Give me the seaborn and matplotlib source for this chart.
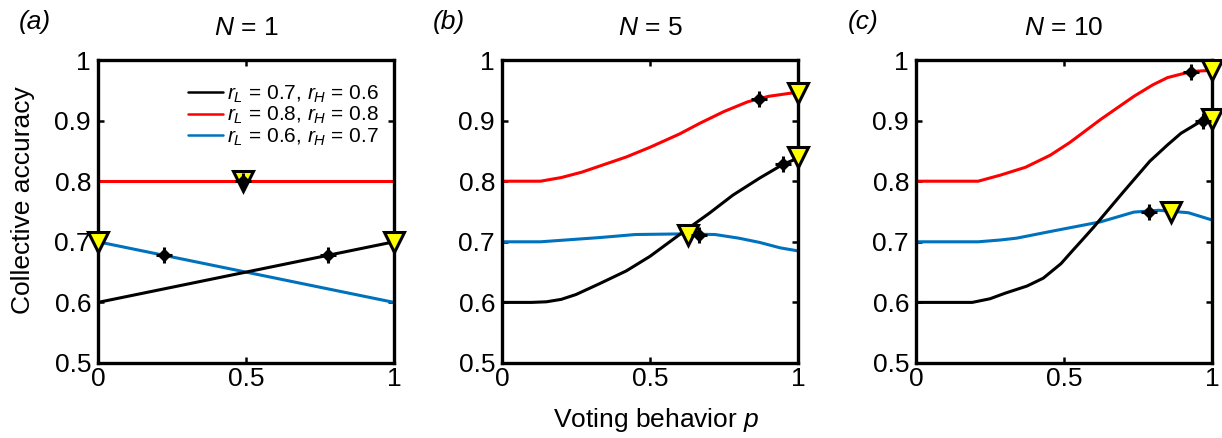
import numpy as np
import pandas as pd
import seaborn as sns
import matplotlib
matplotlib.use("Agg")
import matplotlib.pyplot as plt
from matplotlib.lines import Line2D

# ---- data ----
labels = ["$r_L$ = 0.7, $r_H$ = 0.6", "$r_L$ = 0.8, $r_H$ = 0.8", "$r_L$ = 0.6, $r_H$ = 0.7"]
titles = ["$N$ = 1", "$N$ = 5", "$N$ = 10"]
letters = ["(a)", "(b)", "(c)"]

# N = 1
a_black_p = [0, 1]
a_black_y = [0.6, 0.7]
a_red_p = [0, 1]
a_red_y = [0.8, 0.8]
a_blue_p = [0, 1]
a_blue_y = [0.7, 0.6]

# N = 5
b_black_p = [0, 0.10, 0.15, 0.20, 0.25, 0.33, 0.42, 0.50, 0.60, 0.70, 0.78, 0.87, 0.95, 1.0]
b_black_y = [0.600, 0.600, 0.601, 0.605, 0.613, 0.631, 0.652, 0.676, 0.712, 0.747, 0.777, 0.805, 0.828, 0.838]
b_red_p = [0, 0.13, 0.20, 0.27, 0.33, 0.42, 0.50, 0.60, 0.67, 0.75, 0.83, 0.90, 1.0]
b_red_y = [0.800, 0.800, 0.806, 0.815, 0.825, 0.840, 0.856, 0.878, 0.896, 0.915, 0.931, 0.940, 0.947]
b_blue_p = [0, 0.13, 0.33, 0.45, 0.60, 0.72, 0.80, 0.87, 0.94, 1.0]
b_blue_y = [0.700, 0.700, 0.707, 0.712, 0.713, 0.712, 0.706, 0.699, 0.690, 0.685]

# N = 10
c_black_p = [0, 0.19, 0.25, 0.30, 0.375, 0.43, 0.49, 0.53, 0.556, 0.60, 0.624, 0.70, 0.79, 0.85, 0.895, 0.963, 1.0]
c_black_y = [0.600, 0.600, 0.606, 0.615, 0.627, 0.640, 0.664, 0.686, 0.700, 0.724, 0.738, 0.782, 0.833, 0.860, 0.879, 0.899, 0.905]
c_red_p = [0, 0.21, 0.285, 0.37, 0.454, 0.52, 0.624, 0.736, 0.80, 0.85, 0.93, 1.0]
c_red_y = [0.800, 0.800, 0.810, 0.823, 0.843, 0.864, 0.902, 0.940, 0.959, 0.971, 0.981, 0.983]
c_blue_p = [0, 0.21, 0.285, 0.34, 0.454, 0.624, 0.736, 0.82, 0.92, 1.0]
c_blue_y = [0.700, 0.700, 0.703, 0.706, 0.717, 0.733, 0.749, 0.752, 0.748, 0.736]

# optimum markers (diamond) and triangle markers: black, red, blue
a_diam_p = [0.776, 0.49, 0.223]
a_diam_y = [0.678, 0.800, 0.678]
a_tri_p = [1.0, 0.49, 0.0]
a_tri_y = [0.700, 0.800, 0.700]

b_diam_p = [0.95, 0.868, 0.667]
b_diam_y = [0.829, 0.936, 0.711]
b_tri_p = [1.0, 1.0, 0.627]
b_tri_y = [0.840, 0.945, 0.712]

c_diam_p = [0.97, 0.93, 0.787]
c_diam_y = [0.900, 0.981, 0.750]
c_tri_p = [1.0, 1.0, 0.86]
c_tri_y = [0.903, 0.983, 0.750]

colors = ["black", "#ff0000", "#0072bd"]

panels = [
    ([(a_black_p, a_black_y), (a_red_p, a_red_y), (a_blue_p, a_blue_y)], a_diam_p, a_diam_y, a_tri_p, a_tri_y),
    ([(b_black_p, b_black_y), (b_red_p, b_red_y), (b_blue_p, b_blue_y)], b_diam_p, b_diam_y, b_tri_p, b_tri_y),
    ([(c_black_p, c_black_y), (c_red_p, c_red_y), (c_blue_p, c_blue_y)], c_diam_p, c_diam_y, c_tri_p, c_tri_y),
]

sns.set_theme(style="ticks")
plt.rcParams["font.family"] = ["Liberation Sans", "DejaVu Sans"]
plt.rcParams["mathtext.fontset"] = "custom"
plt.rcParams["mathtext.rm"] = "Liberation Sans"
plt.rcParams["mathtext.it"] = "Liberation Sans:italic"
plt.rcParams["text.color"] = "black"
plt.rcParams["axes.labelcolor"] = "black"

W, H = 1222, 438
fig = plt.figure(figsize=(W / 100, H / 100), dpi=100)
lefts = [98, 502, 916]
ax_w = 296
top, bottom = 60, 363
fs = 19

zorders = [4, 2, 3]
for i, (curves, dp, dy, tp, ty) in enumerate(panels):
    ax = fig.add_axes([lefts[i] / W, 1 - bottom / H, ax_w / W, (bottom - top) / H])
    for j, (px, py) in enumerate(curves):
        df = pd.DataFrame({"p": px, "acc": py})
        sns.lineplot(data=df, x="p", y="acc", color=colors[j], lw=2.2, ax=ax,
                     zorder=zorders[j], legend=False)
    # triangles then diamonds on top
    for j in range(3):
        ax.plot(tp[j], ty[j], marker="v", ms=15, mfc="#ffff00", mec="black",
                mew=2.2, ls="none", zorder=6, clip_on=False)
    for j in range(3):
        ax.plot(dp[j], dy[j], marker="D", ms=6.5, mfc="black", mec="black",
                ls="none", zorder=7, clip_on=False)
        ax.plot(dp[j], dy[j], marker="+", ms=12, mec="black",
                mew=2.2, ls="none", zorder=7, clip_on=False)

    ax.set_xlim(0, 1)
    ax.set_ylim(0.5, 1)
    ax.set_xticks([0, 0.5, 1])
    ax.set_xticklabels(["0", "0.5", "1"])
    ax.set_yticks([0.5, 0.6, 0.7, 0.8, 0.9, 1.0])
    ax.set_yticklabels(["0.5", "0.6", "0.7", "0.8", "0.9", "1"])
    ax.set_xlabel("")
    ax.set_ylabel("")
    ax.tick_params(direction="in", length=4, width=1.8, top=True, right=True,
                   labelsize=fs, colors="black", pad=5)
    ax.tick_params(axis="x", pad=3)
    for s in ax.spines.values():
        s.set_linewidth(2.4)
        s.set_color("black")
        s.set_zorder(5)
    ax.text(0.5, 1 + 32 / (bottom - top), titles[i], transform=ax.transAxes,
            ha="center", va="center", fontsize=fs)

    if i == 0:
        handles = [Line2D([0], [0], color=c, lw=1.8) for c in colors]
        ax.legend(handles, labels, loc="upper right", frameon=False, fontsize=15,
                  handlelength=1.7, handletextpad=0.2, labelspacing=0.0,
                  borderaxespad=0.3, bbox_to_anchor=(1.0, 0.97))

for x, lt in zip([35, 449, 863], letters):
    fig.text(x / W, 1 - 22 / H, lt, ha="center", va="center", fontsize=fs, style="italic")

fig.text(656 / W, 1 - 420 / H, "Voting behavior $p$", ha="center", va="center", fontsize=fs)
fig.text(23 / W, 1 - 200 / H, "Collective accuracy", ha="center", va="center",
         fontsize=fs, rotation=90)

fig.savefig("out.png", dpi=100)
